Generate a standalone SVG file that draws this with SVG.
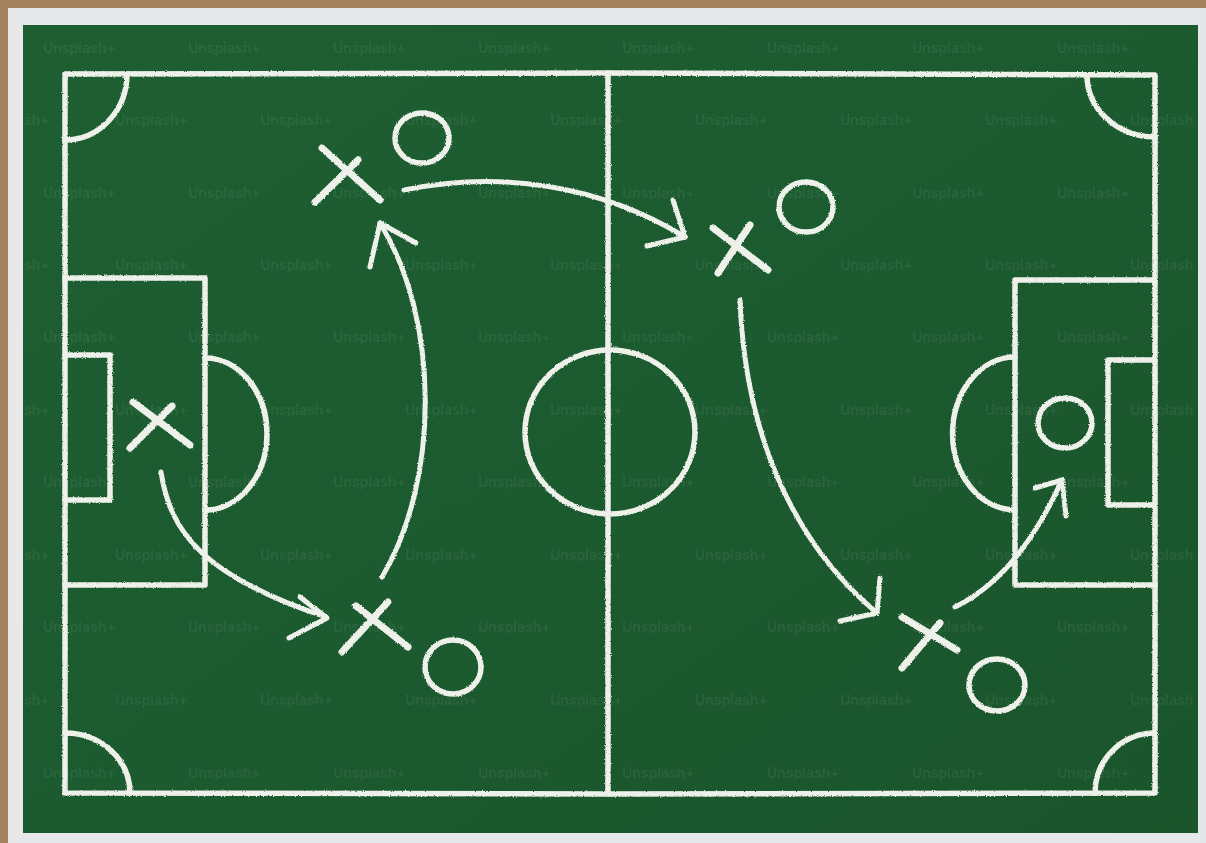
<svg xmlns="http://www.w3.org/2000/svg" width="1206" height="843" viewBox="0 0 1206 843">
<style>
.chalk{fill:none;stroke:#eef0ea;stroke-width:5.5;stroke-linecap:round;stroke-linejoin:round}
.thin{stroke-width:5}
.mark{stroke-width:7}
.wm{font-family:Inter,"Liberation Sans",sans-serif;font-size:14px;font-weight:600;fill:#ffffff;fill-opacity:0.08}
</style>
<defs>
<filter id="rough" x="-5%" y="-5%" width="110%" height="110%">
<feTurbulence type="fractalNoise" baseFrequency="0.9" numOctaves="2" seed="3" result="n"/>
<feDisplacementMap in="SourceGraphic" in2="n" scale="2.5" xChannelSelector="R" yChannelSelector="G"/>
</filter>
<linearGradient id="g" x1="0" y1="0" x2="1" y2="1">
<stop offset="0" stop-color="#1e5f32"/>
<stop offset="1" stop-color="#1a552c"/>
</linearGradient>
</defs>
<rect width="1206" height="843" fill="#e4e6e8"/>
<rect width="1206" height="8" fill="#a4825e"/>
<rect width="8" height="843" fill="#a4825e"/>
<rect x="8" y="8" width="1192" height="835" fill="#e6e8ea"/>
<rect x="23" y="25" width="1175" height="808" fill="url(#g)"/>
<g id="watermarks" class="wm">
<text x="43" y="53">Unsplash+</text><text x="188" y="53">Unsplash+</text><text x="333" y="53">Unsplash+</text><text x="478" y="53">Unsplash+</text><text x="622" y="53">Unsplash+</text><text x="767" y="53">Unsplash+</text><text x="912" y="53">Unsplash+</text><text x="1057" y="53">Unsplash+</text>
<text x="24" y="125">sh+</text><text x="115" y="125">Unsplash+</text><text x="260" y="125">Unsplash+</text><text x="405" y="125">Unsplash+</text><text x="550" y="125">Unsplash+</text><text x="695" y="125">Unsplash+</text><text x="840" y="125">Unsplash+</text><text x="985" y="125">Unsplash+</text><text x="1130" y="125">Unsplash</text>
<text x="43" y="198">Unsplash+</text><text x="188" y="198">Unsplash+</text><text x="333" y="198">Unsplash+</text><text x="478" y="198">Unsplash+</text><text x="622" y="198">Unsplash+</text><text x="767" y="198">Unsplash+</text><text x="912" y="198">Unsplash+</text><text x="1057" y="198">Unsplash+</text>
<text x="24" y="270">sh+</text><text x="115" y="270">Unsplash+</text><text x="260" y="270">Unsplash+</text><text x="405" y="270">Unsplash+</text><text x="550" y="270">Unsplash+</text><text x="695" y="270">Unsplash+</text><text x="840" y="270">Unsplash+</text><text x="985" y="270">Unsplash+</text><text x="1130" y="270">Unsplash</text>
<text x="43" y="342">Unsplash+</text><text x="188" y="342">Unsplash+</text><text x="333" y="342">Unsplash+</text><text x="478" y="342">Unsplash+</text><text x="622" y="342">Unsplash+</text><text x="767" y="342">Unsplash+</text><text x="912" y="342">Unsplash+</text><text x="1057" y="342">Unsplash+</text>
<text x="24" y="415">sh+</text><text x="115" y="415">Unsplash+</text><text x="260" y="415">Unsplash+</text><text x="405" y="415">Unsplash+</text><text x="550" y="415">Unsplash+</text><text x="695" y="415">Unsplash+</text><text x="840" y="415">Unsplash+</text><text x="985" y="415">Unsplash+</text><text x="1130" y="415">Unsplash</text>
<text x="43" y="487">Unsplash+</text><text x="188" y="487">Unsplash+</text><text x="333" y="487">Unsplash+</text><text x="478" y="487">Unsplash+</text><text x="622" y="487">Unsplash+</text><text x="767" y="487">Unsplash+</text><text x="912" y="487">Unsplash+</text><text x="1057" y="487">Unsplash+</text>
<text x="24" y="560">sh+</text><text x="115" y="560">Unsplash+</text><text x="260" y="560">Unsplash+</text><text x="405" y="560">Unsplash+</text><text x="550" y="560">Unsplash+</text><text x="695" y="560">Unsplash+</text><text x="840" y="560">Unsplash+</text><text x="985" y="560">Unsplash+</text><text x="1130" y="560">Unsplash</text>
<text x="43" y="632">Unsplash+</text><text x="188" y="632">Unsplash+</text><text x="333" y="632">Unsplash+</text><text x="478" y="632">Unsplash+</text><text x="622" y="632">Unsplash+</text><text x="767" y="632">Unsplash+</text><text x="912" y="632">Unsplash+</text><text x="1057" y="632">Unsplash+</text>
<text x="24" y="705">sh+</text><text x="115" y="705">Unsplash+</text><text x="260" y="705">Unsplash+</text><text x="405" y="705">Unsplash+</text><text x="550" y="705">Unsplash+</text><text x="695" y="705">Unsplash+</text><text x="840" y="705">Unsplash+</text><text x="985" y="705">Unsplash+</text><text x="1130" y="705">Unsplash</text>
<text x="43" y="778">Unsplash+</text><text x="188" y="778">Unsplash+</text><text x="333" y="778">Unsplash+</text><text x="478" y="778">Unsplash+</text><text x="622" y="778">Unsplash+</text><text x="767" y="778">Unsplash+</text><text x="912" y="778">Unsplash+</text><text x="1057" y="778">Unsplash+</text>
</g>
<g id="field" class="chalk" filter="url(#rough)">
<path d="M65,74 L608,73 L1155,75 L1155,793 L608,794 L65,793 Z"/>
<path d="M608,73 L608,794"/>
<ellipse cx="610" cy="432" rx="85" ry="82"/>
<path d="M205,278 L65,278 M65,585 L205,585 L205,278"/>
<path d="M110,355 L65,355 M65,500 L110,500 L110,355"/>
<path d="M205,358 A62,76 0 0 1 205,510"/>
<path d="M1015,280 L1155,280 M1155,585 L1015,585 L1015,280"/>
<path d="M1108,360 L1155,360 M1155,505 L1108,505 L1108,360"/>
<path d="M1015,357 A62,76 0 0 0 1015,510"/>
<path d="M127,74 A62,66 0 0 1 65,140"/>
<path d="M1087,75 A68,62 0 0 0 1155,137"/>
<path d="M65,733 A65,60 0 0 1 130,793"/>
<path d="M1095,793 A60,60 0 0 1 1155,733"/>
</g>
<g id="connectors" class="chalk thin" filter="url(#rough)">
<g id="pass-1">
<path d="M161,472 C170,530 200,575 326,617"/>
<path d="M300,597 L327,618 L289,638"/>
</g>
<g id="run-2">
<path d="M382,577 C440,480 440,320 380,223"/>
<path d="M370,267 L380,223 L416,243"/>
</g>
<g id="pass-3">
<path d="M404,190 C500,170 600,185 685,237"/>
<path d="M673,200 L685,237 L647,246"/>
</g>
<g id="run-4">
<path d="M740,300 C745,430 790,540 877,613"/>
<path d="M880,578 L877,613 L840,621"/>
</g>
<g id="pass-5">
<path d="M955,607 C1000,585 1035,540 1062,480"/>
<path d="M1035,488 L1062,480 L1066,516"/>
</g>
</g>
<g id="players" filter="url(#rough)">
<g id="player-x1" class="chalk mark"><path d="M133,402 L190,445 M172,406 L130,448"/></g>
<g id="player-x2" class="chalk mark"><path d="M356,606 L408,647 M388,602 L342,652"/></g>
<g id="player-o2" class="chalk"><ellipse cx="453" cy="667" rx="28" ry="27"/></g>
<g id="player-x3" class="chalk mark"><path d="M322,148 L380,200 M358,160 L315,202"/></g>
<g id="player-o3" class="chalk"><ellipse cx="422" cy="138" rx="27" ry="25"/></g>
<g id="player-x4" class="chalk mark"><path d="M713,228 L768,270 M750,225 L718,273"/></g>
<g id="player-o4" class="chalk"><ellipse cx="806" cy="207" rx="27" ry="25"/></g>
<g id="player-x5" class="chalk mark"><path d="M902,617 L957,650 M940,623 L902,668"/></g>
<g id="player-o5" class="chalk"><ellipse cx="997" cy="685" rx="28" ry="26"/></g>
<g id="player-o6" class="chalk"><ellipse cx="1065" cy="423" rx="27" ry="25"/></g>
</g>
</svg>
